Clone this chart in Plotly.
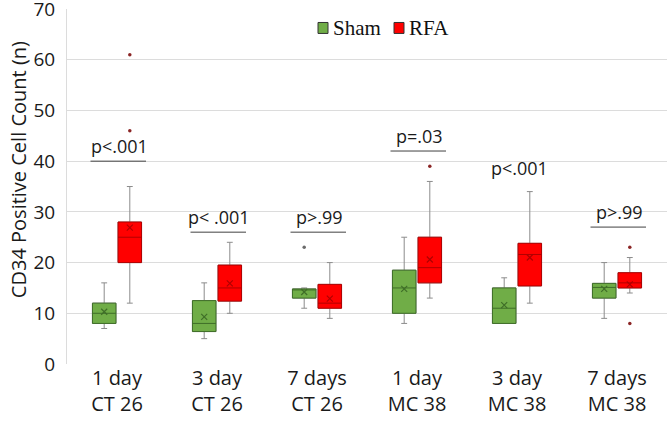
import plotly.graph_objects as go

categories = ["1 day<br>CT 26", "3 day<br>CT 26", "7 days<br>CT 26",
              "1 day<br>MC 38", "3 day<br>MC 38", "7 days<br>MC 38"]

sham_min = [7, 5, 11, 8, 8, 9]
sham_q1 = [8, 6.4, 13, 10, 8, 13]
sham_med = [10, 8, 14.7, 15, 11, 15.1]
sham_q3 = [12, 12.5, 14.8, 18.5, 15, 15.9]
sham_max = [16, 16, 15, 25, 17, 20]
sham_mean = [10.3, 9.3, 14.2, 14.8, 11.6, 14.8]
sham_outlier_cat = [2]
sham_outlier_val = [23]

rfa_min = [12, 10, 9, 13, 12, 14]
rfa_q1 = [20, 12.4, 11, 16, 15.4, 15]
rfa_med = [25, 15, 12, 19, 21.6, 16]
rfa_q3 = [28, 19.5, 15.7, 25, 23.8, 18]
rfa_max = [35, 24, 20, 36, 34, 21]
rfa_mean = [26.9, 15.9, 12.9, 20.6, 21.0, 15.7]
rfa_outlier_cat = [0, 0, 3, 5, 5]
rfa_outlier_val = [61, 46, 39, 23, 8]

p_labels = ["p<.001", "p< .001", "p>.99", "p=.03", "p<.001", "p>.99"]
p_base = [40, 26, 26, 42, 35.6, 27]
p_underline = [True, True, True, True, False, True]

OFF = 0.128
BW = 0.235
GREEN, GREEN_D = "#70AD47", "#3F6E28"
RED, RED_D = "#FF0000", "#B00000"
WHISK = "#8C8C8C"
TXT = "#1a1a1a"

TOP = 8.5
BOT = 364.3

idx = list(range(len(categories)))
fig = go.Figure()


def add_series(off, q1, med, q3, lo, hi, mean, fill, edge, oc, ov, ocol):
    xs = [i + off for i in idx]
    # whiskers (grey)
    fig.add_trace(go.Box(x=xs, q1=q1, median=med, q3=q3, lowerfence=lo, upperfence=hi,
                         width=BW, whiskerwidth=0.25, line=dict(color=WHISK, width=1),
                         fillcolor="rgba(0,0,0,0)", showlegend=False, hoverinfo="skip"))
    # coloured box
    fig.add_trace(go.Box(x=xs, q1=q1, median=med, q3=q3, lowerfence=q1, upperfence=q3,
                         width=BW, whiskerwidth=0, line=dict(color=edge, width=1),
                         fillcolor=fill, showlegend=False))
    fig.add_trace(go.Scatter(x=xs, y=mean, mode="markers", showlegend=False,
                             marker=dict(symbol="x-thin", size=6,
                                         line=dict(color=edge, width=1.2), color=edge)))
    fig.add_trace(go.Scatter(x=[c + off for c in oc], y=ov, mode="markers", showlegend=False,
                             marker=dict(symbol="circle", size=3.5, color=ocol)))


add_series(-OFF, sham_q1, sham_med, sham_q3, sham_min, sham_max, sham_mean,
           GREEN, GREEN_D, sham_outlier_cat, sham_outlier_val, "#6b6b6b")
add_series(OFF, rfa_q1, rfa_med, rfa_q3, rfa_min, rfa_max, rfa_mean,
           RED, RED_D, rfa_outlier_cat, rfa_outlier_val, "#8B2525")

# p-value annotations
for i, (lab, yb, ul) in enumerate(zip(p_labels, p_base, p_underline)):
    fig.add_annotation(x=i + 0.02, y=yb + 0.3, text=lab, showarrow=False,
                       xanchor="center", yanchor="bottom",
                       font=dict(family="Open Sans", size=18, color=TXT))
    if ul:
        fig.add_shape(type="line", x0=i - 0.265, x1=i + 0.29, y0=yb, y1=yb,
                      line=dict(color="#404040", width=1))

# manual legend
PX = lambda px: (px - 67) / 600
PY = lambda py: (BOT - py) / (BOT - TOP)
for x0, col, edge, name in [(318, GREEN, GREEN_D, "Sham"), (394, RED, RED_D, "RFA")]:
    fig.add_shape(type="rect", xref="paper", yref="paper",
                  x0=PX(x0), x1=PX(x0 + 10), y0=PY(33), y1=PY(22),
                  fillcolor=col, line=dict(color="#333333", width=1))
    fig.add_annotation(xref="paper", yref="paper", x=PX(x0 + 13), y=PY(27.5),
                       text=name, showarrow=False, xanchor="left", yanchor="middle",
                       font=dict(family="Liberation Serif", size=21, color="#111111"))

# y-axis title
fig.add_annotation(xref="paper", yref="paper", x=PX(18), y=PY(170), textangle=-90,
                   text="CD34 Positive Cell Count (n)", showarrow=False,
                   xanchor="center", yanchor="middle",
                   font=dict(family="Open Sans", size=20, color=TXT))

fig.update_layout(
    width=668, height=425,
    margin=dict(l=67, r=1, t=TOP, b=425 - BOT),
    paper_bgcolor="white", plot_bgcolor="white",
    boxmode="overlay", showlegend=False,
    font=dict(family="Open Sans", color=TXT),
)
fig.update_xaxes(range=[-0.5, 5.5], tickmode="array", tickvals=idx, ticktext=categories,
                 showgrid=False, zeroline=False, showline=False, ticks="",
                 automargin=False,
                 tickfont=dict(family="Open Sans", size=20, color=TXT))
fig.update_yaxes(range=[0, 70.01], tickvals=list(range(0, 71, 10)),
                 showgrid=True, gridcolor="#DCDCDC", gridwidth=1,
                 zeroline=False, showline=True, linecolor="#DCDCDC", linewidth=1,
                 ticks="outside", ticklen=7, tickcolor="rgba(0,0,0,0)",
                 ticklabeloverflow="allow", automargin=False,
                 tickfont=dict(family="Open Sans", size=19, color=TXT))

fig.write_html("out.html", config={"displayModeBar": False},
               post_script="document.body.style.margin='0';document.body.style.overflow='hidden';")
